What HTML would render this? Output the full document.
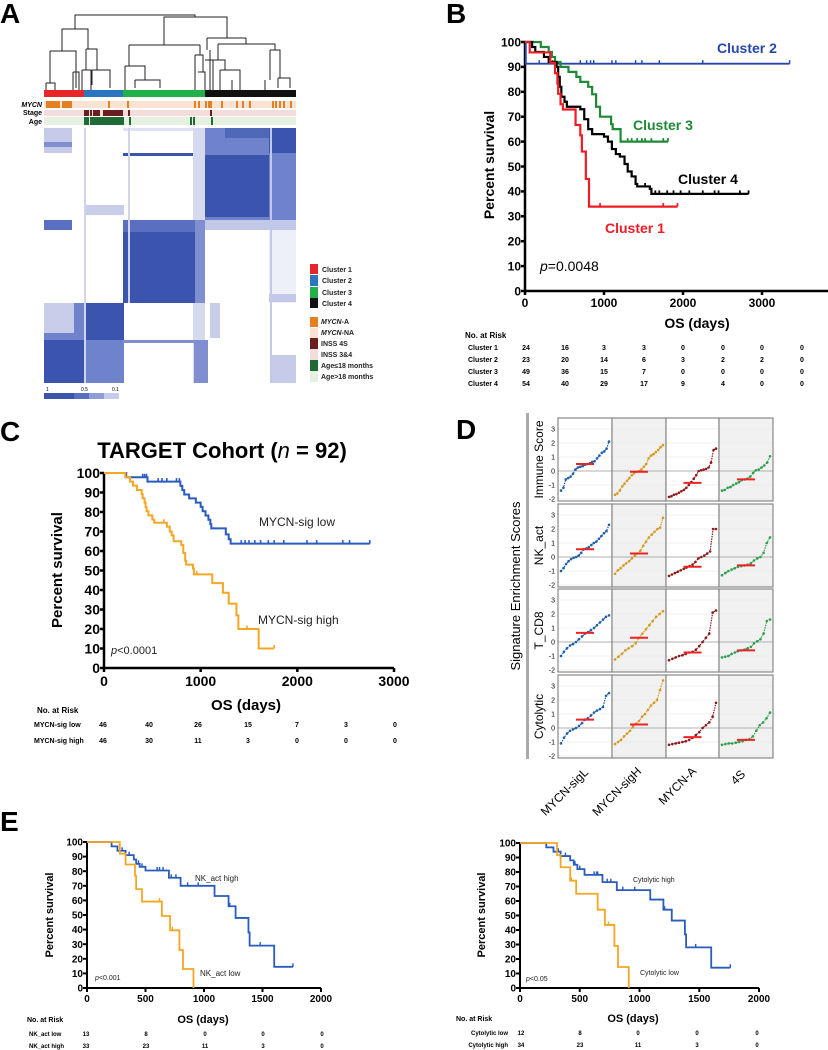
<!DOCTYPE html>
<html><head><meta charset="utf-8">
<style>
html,body{margin:0;padding:0;background:#fff;}
svg{display:block;font-family:"Liberation Sans",sans-serif;}
</style></head>
<body>
<svg id="fig" width="828" height="1050" viewBox="0 0 828 1050" xmlns="http://www.w3.org/2000/svg">
<text x="0" y="23" font-size="28" font-weight="bold">A</text>
<text x="446" y="23" font-size="28" font-weight="bold">B</text>
<text x="0" y="441" font-size="28" font-weight="bold">C</text>
<text x="456" y="439" font-size="28" font-weight="bold">D</text>
<text x="0" y="831" font-size="28" font-weight="bold">E</text>

<!-- Panel A -->
<g id="panelA">
 <g stroke="#222" stroke-width="1" fill="none">
  <path d="M75 29V15H195V17"/>
  <path d="M62 51V29H88V49"/>
  <path d="M164 45V17H227V38"/>
  <path d="M129 45H200"/><path d="M129 45V66"/><path d="M200 45V55"/>
  <path d="M207 38H246"/><path d="M207 38V50"/><path d="M246 38V44"/>
  <path d="M218 44H275V50"/><path d="M218 44V60"/>
  <path d="M50 51H76V88"/><path d="M50 51V83"/><path d="M46 83H55V90M46 83V90"/>
  <path d="M86 49H97V70"/><path d="M86 49V70"/><path d="M82 70H91V90M82 70V90"/><path d="M92 70H110V88"/><path d="M92 70V85"/>
  <path d="M73 72H79V90M73 72V90"/>
  <path d="M125 66H145V80"/><path d="M125 66V90"/><path d="M135 80H160V88"/><path d="M135 80V88"/>
  <path d="M195 55H203V72"/><path d="M195 55V90"/><path d="M198 72H205V90"/>
  <path d="M210 50V90"/><path d="M205 60H225V70"/><path d="M213 60V90"/><path d="M220 70H240V80"/><path d="M220 70V90"/><path d="M232 80V90"/><path d="M240 80V90"/>
  <path d="M270 50H280V78"/><path d="M270 50V80"/><path d="M278 78H290V88"/><path d="M278 78V88"/><path d="M265 80V90"/>
 </g>
 <rect x="44" y="90" width="40" height="7" fill="#e8262a"/>
 <rect x="84" y="90" width="39" height="7" fill="#2a74c0"/>
 <rect x="123" y="90" width="82" height="7" fill="#22b04b"/>
 <rect x="205" y="90" width="91" height="7" fill="#111"/>
 <text x="42" y="107" font-size="7" font-weight="bold" font-style="italic" text-anchor="end">MYCN</text>
 <text x="42" y="115" font-size="7" font-weight="bold" text-anchor="end">Stage</text>
 <text x="42" y="124" font-size="7" font-weight="bold" text-anchor="end">Age</text>
 <rect x="44" y="101" width="252" height="7" fill="#fbe3d3"/>
 <rect x="44" y="110" width="252" height="6" fill="#f2dcdc"/>
 <rect x="44" y="117" width="252" height="8" fill="#e6f0e0"/>
 <g id="annot"></g>
 <g id="heat">
  <rect x="44" y="128" width="252" height="255" fill="#fff"/>
  <rect x="44" y="128" width="28" height="25" fill="#c5cbe8"/>
  <rect x="44" y="142" width="28" height="5" fill="#7f8fd0"/>
  <rect x="205" y="128" width="91" height="92" fill="#6f82cc"/>
  <rect x="205" y="155" width="64" height="62" fill="#3b54ae"/>
  <rect x="269" y="128" width="27" height="25" fill="#3b54ae"/>
  <rect x="225" y="128" width="44" height="10" fill="#5068b8"/>
  <rect x="123" y="153" width="82" height="3" fill="#3b54ae"/>
  <rect x="123" y="128" width="82" height="3" fill="#dfe2f2"/>
  <rect x="193" y="128" width="12" height="255" fill="#d5daee"/>
  <rect x="205" y="220" width="91" height="10" fill="#c2c9e8"/>
  <rect x="44" y="220" width="28" height="10" fill="#5a6fbf"/>
  <rect x="84" y="205" width="40" height="10" fill="#c8cdea"/>
  <rect x="123" y="220" width="82" height="12" fill="#5a6fbf"/>
  <rect x="123" y="232" width="72" height="71" fill="#3b54ae"/>
  <rect x="195" y="220" width="10" height="83" fill="#7f8fd0"/>
  <rect x="269" y="230" width="27" height="73" fill="#eef0f8"/>
  <rect x="269" y="294" width="27" height="8" fill="#c2c9e8"/>
  <rect x="44" y="303" width="80" height="80" fill="#6f82cc"/>
  <rect x="84" y="303" width="40" height="37" fill="#3b54ae"/>
  <rect x="44" y="340" width="40" height="43" fill="#3b54ae"/>
  <rect x="44" y="303" width="30" height="30" fill="#c8cdea"/>
  <rect x="194" y="340" width="14" height="43" fill="#7f8fd0"/>
  <rect x="210" y="303" width="10" height="35" fill="#c8cdea"/>
  <rect x="272" y="355" width="24" height="28" fill="#c5cbe8"/>
  <rect x="123" y="340" width="80" height="3" fill="#7f8fd0"/>
  <rect x="128" y="128" width="2" height="175" fill="#d0d5ec"/>
  <rect x="84" y="128" width="2" height="255" fill="#d0d5ec"/>
  <rect x="270" y="128" width="2" height="255" fill="#c2c9e8"/>
 </g>
 <text x="46" y="391" font-size="5">1</text><text x="81" y="391" font-size="5">0.5</text><text x="112" y="391" font-size="5">0.1</text>
 <g>
  <rect x="44" y="393" width="30" height="6" fill="#3b54ae"/><rect x="74" y="393" width="15" height="6" fill="#5a6fbf"/><rect x="89" y="393" width="15" height="6" fill="#8f9dd6"/><rect x="104" y="393" width="15" height="6" fill="#c5cbe8"/>
 </g>
 <g font-size="7" font-weight="bold" fill="#222">
  <rect x="310" y="264" width="8" height="10" fill="#e8262a"/><text x="322" y="272">Cluster 1</text>
  <rect x="310" y="275" width="8" height="11" fill="#2a74c0"/><text x="322" y="283">Cluster 2</text>
  <rect x="310" y="287" width="8" height="11" fill="#22b04b"/><text x="322" y="295">Cluster 3</text>
  <rect x="310" y="298" width="8" height="10" fill="#111"/><text x="322" y="306">Cluster 4</text>
  <rect x="310" y="317" width="8" height="10" fill="#e67e22"/><text x="321" y="324" font-style="italic">MYCN<tspan font-style="normal">-A</tspan></text>
  <rect x="310" y="328" width="8" height="10" fill="#fbe3d3"/><text x="321" y="335" font-style="italic">MYCN<tspan font-style="normal">-NA</tspan></text>
  <rect x="310" y="338" width="8" height="11" fill="#6b1e1e"/><text x="321" y="346">INSS 4S</text>
  <rect x="310" y="349" width="8" height="11" fill="#f2dcdc"/><text x="321" y="357">INSS 3&amp;4</text>
  <rect x="310" y="360" width="8" height="11" fill="#1e6b35"/><text x="321" y="368">Age≤18 months</text>
  <rect x="310" y="371" width="8" height="11" fill="#e6f0e0"/><text x="321" y="379">Age&gt;18 months</text>
 </g>
</g>

<g id="panelB"></g>
<g id="panelC"></g>
<g id="panelD"></g>
<g id="panelE1"></g>
<g id="panelE2"></g>
</svg>

<script>
// ---- Panel A annotation data ----
const mycnAmpX=[46,48,50,52,54,56,58,62,64,66,68,70,108,127,194,198,205,208,210,221,236,242,249,272,275,279,283,290];
const stage4sX=[84,85,86,87,90,93,94,95,96,97,98,103,105,107,109,111,113,115,117,119,121,128,210];
const ageYoungX=[84,85,86,87,90,92,94,96,98,100,102,104,106,108,110,112,114,116,118,120,122,129,190,193,211];

// ---- Panel B data ----
const bTicksX=[0,1000,2000,3000];
const bTicksY=[0,10,20,30,40,50,60,70,80,90,100];
const c1T=[60,320,380,410,420,450,480,640,700,720,770,810];
const c1S=[95.8,91.7,87.5,83.3,79.2,75,72.9,66.7,62.5,56,45,33.9];
const c1Cens=[950,1750,1930];
const c2T=[10];
const c2S=[91.3];
const c2Cens=[180,350,700,780,830,870,1100,1150,1400,1480,1700,2250,3350];
const c3T=[200,300,340,380,450,550,650,700,800,850,900,950,1090,1110,1210];
const c3S=[98,96,94,92,90,88,86,84,82,79,74,70,67,65,60];
const c3Cens=[1300,1350,1420,1480,1520,1600,1750,1810];
const c4T=[90,130,240,300,400,420,440,460,500,530,700,750,800,850,1000,1050,1100,1150,1200,1260,1300,1350,1400,1420,1580,1600];
const c4S=[98,96,94,92,90,86,82,78,76,74,73,69,65,63,62,60,57,55,54,51,48,46,43,42,41,39];
const c4Cens=[1520,1650,1700,1800,1880,1970,2080,2250,2400,2450,2720,2830];
const bRiskRows=["Cluster 1","Cluster 2","Cluster 3","Cluster 4"];
const bRisk1=[24,16,3,3,0,0,0,0];
const bRisk2=[23,20,14,6,3,2,2,0];
const bRisk3=[49,36,15,7,0,0,0,0];
const bRisk4=[54,40,29,17,9,4,0,0];

// ---- Panel C data ----
const cTicksX=[0,1000,2000,3000];
const cTicksY=[0,10,20,30,40,50,60,70,80,90,100];
const lowT=[230,450,790,810,830,880,950,1000,1020,1050,1080,1100,1110,1260,1290,1310];
const lowS=[97.8,95.6,93.4,91.2,89,87,84.8,82.6,80.4,78.2,76,73.8,71.6,68.5,66,63.8];
const lowCens=[400,420,440,560,600,650,750,780,1420,1460,1500,1560,1620,1700,1760,1860,2100,2200,2470,2540,2750];
const highT=[220,270,300,340,390,400,420,430,440,460,500,520,650,680,700,720,800,820,840,850,920,930,1120,1230,1290,1370,1390,1600];
const highS=[97.8,95.6,93.5,91.3,89.1,87,84.8,82.6,80.4,78.3,76.1,74.5,72.5,70,68,65,63,59,55,53,51,48,43.5,38.6,33,27,20,10];
const highCens=[620,960,1480,1760];
const cRiskRows=["MYCN-sig low","MYCN-sig high"];
const cRiskLow=[46,40,26,15,7,3,0];
const cRiskHigh=[46,30,11,3,0,0,0];

// ---- Panel E data ----
const eTicksX=[0,500,1000,1500,2000];
const eTicksY=[0,10,20,30,40,50,60,70,80,90,100];
const nkHighT=[210,260,330,400,420,450,500,700,800,1090,1210,1270,1380,1390,1600];
const nkHighS=[97,94,91,88,85,83,80.5,75.5,70,63,56,48,38,29,14.5];
const nkHighCens=[300,360,440,470,600,620,650,720,760,860,950,1220,1480,1760];
const nkLowT=[280,330,410,420,470,640,710,790,820,910];
const nkLowS=[92,84.6,76.9,67.7,59.2,49.3,39.5,26,13,0];
const nkLowCens=[620,730];
const nkRiskRows=["NK_act low","NK_act high"];
const nkRiskLow=[13,8,0,0,0];
const nkRiskHigh=[33,23,11,3,0];
const cyHighT=[220,280,340,420,450,480,540,690,810,1090,1200,1270,1380,1390,1600];
const cyHighS=[97,94,91,88,85,82,78,73,67.5,61,54,46.5,37,28,14];
const cyHighCens=[320,380,460,500,620,640,650,730,760,860,960,1210,1470,1760];
const cyLowT=[310,340,420,470,650,710,790,820,910];
const cyLowS=[91.7,83.3,74,65,54,43.5,29,14.5,0];
const cyLowCens=[430,740];
const cyRiskRows=["Cytolytic low","Cytolytic high"];
const cyRiskLow=[12,8,0,0,0];
const cyRiskHigh=[34,23,11,3,0];

// ---- Panel D data ----
const dGroups=["MYCN-sigL","MYCN-sigH","MYCN-A","4S"];
const dSignatures=["Immune Score","NK_act","T_CD8","Cytolytic"];
const dTicks=[-2,-1,0,1,2,3];
const immL=[-1.4,-1.2,-0.6,-0.5,-0.4,-0.2,0.1,0.25,0.3,0.35,0.45,0.5,0.55,0.65,0.7,0.9,1.1,1.3,1.4,1.6,2.1];
const immH=[-1.7,-1.6,-1.4,-1.1,-0.9,-0.7,-0.5,-0.3,-0.15,-0.05,0,0.1,0.3,0.5,0.9,1.1,1.2,1.35,1.5,1.7,1.85];
const immA=[-1.85,-1.8,-1.7,-1.65,-1.55,-1.45,-1.35,-1.2,-1.0,-0.8,-0.55,-0.3,0,0.05,0.1,0.15,0.25,0.6,1.5,1.6];
const imm4S=[-1.4,-1.35,-1.2,-1.15,-1.0,-0.9,-0.8,-0.65,-0.6,-0.55,-0.4,-0.15,0.05,0.1,0.25,0.4,0.6,1.05];
const nkL=[-1,-0.8,-0.5,-0.3,-0.15,-0.05,0,0.1,0.3,0.55,0.6,0.7,0.85,1.0,1.1,1.3,1.5,1.7,1.85,2.3];
const nkH=[-1.2,-0.95,-0.8,-0.6,-0.45,-0.3,-0.1,0.1,0.25,0.45,0.8,1.1,1.4,1.6,1.8,2.0,2.1,2.8];
const nkA=[-1.35,-1.25,-1.15,-1.05,-0.95,-0.85,-0.75,-0.65,-0.55,-0.35,-0.1,0,0.1,0.25,0.4,2.0,2.0];
const nk4S=[-1.3,-1.15,-1.0,-0.9,-0.8,-0.7,-0.65,-0.6,-0.55,-0.45,-0.25,-0.1,0,0.3,1.0,1.4];
const cd8L=[-1,-0.7,-0.45,-0.25,-0.15,0,0.2,0.4,0.6,0.7,0.85,1.0,1.2,1.4,1.6,1.8,1.9];
const cd8H=[-1.25,-1.05,-0.85,-0.6,-0.45,-0.3,-0.1,0.3,0.6,0.9,1.2,1.5,1.8,2.0,2.2];
const cd8A=[-1.3,-1.2,-1.1,-1.0,-0.95,-0.85,-0.75,-0.7,-0.55,-0.3,0,0.3,0.6,2.1,2.25];
const cd84S=[-1.1,-1.05,-1.0,-0.85,-0.75,-0.65,-0.6,-0.55,-0.45,-0.35,-0.1,0.05,0.2,0.6,1.5,1.6];
const cytL=[-1.1,-0.7,-0.4,-0.2,-0.1,0,0.15,0.35,0.6,0.7,0.9,1.1,1.25,1.35,1.5,2.3,2.5];
const cytH=[-1.15,-1.0,-0.85,-0.6,-0.4,-0.2,0.1,0.3,0.5,0.8,1.0,1.3,1.6,1.8,2.0,2.7,3.4];
const cytA=[-1.2,-1.15,-1.1,-1.05,-1.0,-0.95,-0.85,-0.7,-0.5,-0.3,0,0.2,0.4,0.8,1.8];
const cyt4S=[-1.2,-1.15,-1.1,-1.1,-1.05,-1.0,-0.95,-0.85,-0.8,-0.6,-0.2,0.2,0.4,0.7,1.1];
const dMedImm=[0.5,-0.05,-0.85,-0.6];
const dMedNk=[0.55,0.25,-0.7,-0.6];
const dMedCd8=[0.65,0.3,-0.75,-0.6];
const dMedCyt=[0.6,0.25,-0.65,-0.85];

const NS="http://www.w3.org/2000/svg";
function mk(parent,tag,attrs,text){const e=document.createElementNS(NS,tag);for(const k in attrs)e.setAttribute(k,attrs[k]);if(text!==undefined)e.textContent=text;parent.appendChild(e);return e;}

// annotations
const ann=document.getElementById('annot');
mycnAmpX.forEach(x=>{const r=mk(ann,'rect',{x:x,y:101,width:2,height:7,fill:'#e67e22'});

});
stage4sX.forEach(x=>{const r=mk(ann,'rect',{x:x,y:110,width:2,height:6,fill:'#6b1e1e'});

});
ageYoungX.forEach(x=>{const r=mk(ann,'rect',{x:x,y:117,width:2,height:8,fill:'#1e6b35'});

});

function makeAxes(g,o){
  const X=v=>o.x0+(v/o.xmax)*(o.x1-o.x0);
  const Y=v=>o.y0-(v/100)*(o.y0-o.y100);
  const ax=mk(g,'g',{});
  
  
  mk(ax,'line',{x1:o.x0,y1:o.y100,x2:o.x0,y2:o.y0,stroke:'#000','stroke-width':o.lw});
  mk(ax,'line',{x1:o.x0,y1:o.y0,x2:o.axEnd||X(o.xmax),y2:o.y0,stroke:'#000','stroke-width':o.lw});
  o.yt.forEach(v=>{mk(ax,'line',{x1:o.x0-4,y1:Y(v),x2:o.x0,y2:Y(v),stroke:'#000','stroke-width':o.lw});
    const t=mk(ax,'text',{x:o.x0-4,y:Y(v)+o.fs*0.36,'font-size':o.fs,'font-weight':'bold','text-anchor':'end'},v);
    
    });
  o.xt.forEach(v=>{mk(ax,'line',{x1:X(v),y1:o.y0,x2:X(v),y2:o.y0+4,stroke:'#000','stroke-width':o.lw});
    const t=mk(ax,'text',{x:X(v),y:o.y0+4+o.fs,'font-size':o.fs,'font-weight':'bold','text-anchor':'middle'},v);
    
    });
  const yl=mk(g,'text',{x:o.ylx,y:o.yly,'font-size':o.lfs,'font-weight':'bold','text-anchor':'middle',transform:`rotate(-90 ${o.ylx} ${o.yly})`},'Percent survival');
  
  
  const xl=mk(g,'text',{x:o.xlx,y:o.xly,'font-size':o.lfs,'font-weight':'bold','text-anchor':'middle'},'OS (days)');
  
  
  return {X,Y};
}
function kmCurve(g,s,T,S,end,cens,color,w,name){
  let d=`M${s.X(0)} ${s.Y(100)}`;
  for(let i=0;i<T.length;i++){d+=`H${s.X(T[i])}V${s.Y(S[i])}`;}
  const last=T.length?T[T.length-1]:0;
  if(end>last)d+=`H${s.X(end)}`;
  const p=mk(g,'path',{d:d,fill:'none',stroke:color,'stroke-width':w});
  
  
  cens.forEach(t=>{let sv=100;for(let i=0;i<T.length;i++)if(T[i]<=t)sv=S[i];
    const c=mk(g,'line',{x1:s.X(t),y1:s.Y(sv),x2:s.X(t),y2:s.Y(sv)-3.5,stroke:color,'stroke-width':w*0.8});
    
    });
}
function riskTable(g,title,tx,ty,rows,vals,lx,cols,rowY,fs,anchor){
  const t=mk(g,'text',{x:tx,y:ty,'font-size':fs+1,'font-weight':'bold'},title);
  
  
  rows.forEach((r,i)=>{
    const l=mk(g,'text',{x:lx,y:rowY[i],'font-size':fs,'font-weight':'bold','text-anchor':anchor||'start'},r);
    
    
    vals[i].forEach((v,j)=>{const c=mk(g,'text',{x:cols[j],y:rowY[i],'font-size':fs,'font-weight':'bold','text-anchor':'middle'},v);
      
      });
  });
}
function txt(g,x,y,fs,fill,s,name,extra){const t=mk(g,'text',Object.assign({x:x,y:y,'font-size':fs,fill:fill,'font-weight':'bold'},extra||{}));t.innerHTML=s;
  
  return t;}

// Panel B
(function(){
  const g=document.getElementById('panelB');
  const s=makeAxes(g,{x0:525,x1:762,xmax:3000,axEnd:828,y0:291,y100:42,xt:bTicksX,yt:bTicksY,fs:12,lfs:14,lw:2.5,ylx:494,yly:165,xlx:697,xly:328});
  kmCurve(g,s,c2T,c2S,3350,c2Cens,'#2845a8',1.8,'cluster-2-curve');
  kmCurve(g,s,c3T,c3S,1810,c3Cens,'#1e8a35',2.2,'cluster-3-curve');
  kmCurve(g,s,c4T,c4S,2830,c4Cens,'#000',2.2,'cluster-4-curve');
  kmCurve(g,s,c1T,c1S,1930,c1Cens,'#ee1c24',2.2,'cluster-1-curve');
  txt(g,717,53,14,'#2845a8','Cluster 2','cluster-2-label');
  txt(g,633,130,14,'#1e8a35','Cluster 3','cluster-3-label');
  txt(g,678,184,14,'#000','Cluster 4','cluster-4-label');
  txt(g,605,233,14,'#ee1c24','Cluster 1','cluster-1-label');
  txt(g,540,271,14,'#000','<tspan font-style="italic">p</tspan>=0.0048','p-value',{'font-weight':'normal'});
  riskTable(g,'No. at Risk',465,338,bRiskRows,[bRisk1,bRisk2,bRisk3,bRisk4],468,[526,565,604,644,683,723,762,802],[350,362,374,386],7);
})();

// Panel C
(function(){
  const g=document.getElementById('panelC');
  const t=mk(g,'text',{x:222,y:458,'font-size':22,'font-weight':'bold','text-anchor':'middle'});
  t.innerHTML='TARGET Cohort (<tspan font-style="italic" font-weight="normal">n</tspan> = 92)';
  
  
  const s=makeAxes(g,{x0:104,x1:394,xmax:3000,y0:668,y100:473,xt:cTicksX,yt:cTicksY,fs:14,lfs:15,lw:2.5,ylx:62,yly:570,xlx:246,xly:710});
  kmCurve(g,s,lowT,lowS,2750,lowCens,'#2a5bbf',2,'mycn-sig-low-curve');
  kmCurve(g,s,highT,highS,1760,highCens,'#f5a623',2,'mycn-sig-high-curve');
  txt(g,259,526,12,'#222','MYCN-sig low','mycn-sig-low-label',{'font-weight':'normal'});
  txt(g,258,624,12,'#222','MYCN-sig high','mycn-sig-high-label',{'font-weight':'normal'});
  txt(g,111,654,11,'#222','<tspan font-style="italic">p</tspan>&lt;0.0001','p-value',{'font-weight':'normal'});
  riskTable(g,'No. at Risk',37,713,cRiskRows,[cRiskLow,cRiskHigh],34,[103,149,198,248,297,346,395],[727,743],7);
})();

// Panel E left
(function(){
  const g=document.getElementById('panelE1');
  const s=makeAxes(g,{x0:87,x1:321,xmax:2000,y0:988,y100:842,xt:eTicksX,yt:eTicksY,fs:10,lfs:11,lw:2,ylx:53,yly:915,xlx:203,xly:1023});
  kmCurve(g,s,nkHighT,nkHighS,1760,nkHighCens,'#2a5bbf',1.8,'nk-act-high-curve');
  kmCurve(g,s,nkLowT,nkLowS,910,nkLowCens,'#f5a623',1.8,'nk-act-low-curve');
  txt(g,195,881,8,'#222','NK_act high','nk-act-high-label',{'font-weight':'normal'});
  txt(g,200,976,8,'#222','NK_act low','nk-act-low-label',{'font-weight':'normal'});
  txt(g,95,980,7,'#222','<tspan font-style="italic">p</tspan>&lt;0.001','p-value',{'font-weight':'normal'});
  riskTable(g,'No. at Risk',27,1022,nkRiskRows,[nkRiskLow,nkRiskHigh],29,[86,146,205,263,322],[1036,1048],6);
})();

// Panel E right
(function(){
  const g=document.getElementById('panelE2');
  const s=makeAxes(g,{x0:520,x1:759,xmax:2000,y0:988,y100:843,xt:eTicksX,yt:eTicksY,fs:10,lfs:11,lw:2,ylx:485,yly:915,xlx:633,xly:1022});
  kmCurve(g,s,cyHighT,cyHighS,1760,cyHighCens,'#2a5bbf',1.8,'cytolytic-high-curve');
  kmCurve(g,s,cyLowT,cyLowS,910,cyLowCens,'#f5a623',1.8,'cytolytic-low-curve');
  txt(g,633,882,7,'#222','Cytolytic high','cytolytic-high-label',{'font-weight':'normal'});
  txt(g,640,975,7,'#222','Cytolytic low','cytolytic-low-label',{'font-weight':'normal'});
  txt(g,526,981,7,'#222','<tspan font-style="italic">p</tspan>&lt;0.05','p-value',{'font-weight':'normal'});
  riskTable(g,'No. at Risk',456,1021,cyRiskRows,[cyRiskLow,cyRiskHigh],508,[521,580,638,697,757],[1035,1047],6,'end');
})();

// Panel D
(function(){
  const g=document.getElementById('panelD');
  const colX=[558,612,666,719,773];
  const rowTop=[418,504,589,675];
  const rowH=83, zeroOff=53, unit=14;
  const data=[[immL,immH,immA,imm4S],[nkL,nkH,nkA,nk4S],[cd8L,cd8H,cd8A,cd84S],[cytL,cytH,cytA,cyt4S]];
  const meds=[dMedImm,dMedNk,dMedCd8,dMedCyt];
  const colors=['#1f5fa8','#d49a22','#8b1a1a','#2e9e4f'];
  const bgs=['#ffffff','#f1f1f1','#ffffff','#f1f1f1'];
  const bar=mk(g,'rect',{x:526,y:413,width:3,height:346,fill:'#aaa'});
  
  
  const yt=mk(g,'text',{x:520,y:586,'font-size':13,'text-anchor':'middle',transform:'rotate(-90 520 586)'},'Signature Enrichment Scores');
  
  
  dSignatures.forEach((sig,r)=>{
    const top=rowTop[r], Y=v=>top+zeroOff-v*unit;
    const lab=mk(g,'text',{x:543,y:top+rowH/2,'font-size':12,'text-anchor':'middle',transform:`rotate(-90 543 ${top+rowH/2})`},sig);
    
    
    dTicks.forEach(v=>{const t=mk(g,'text',{x:555,y:Y(v)+2.5,'font-size':7,'text-anchor':'end'},v);
      
      });
    dGroups.forEach((gr,c)=>{
      const x0=colX[c],x1=colX[c+1];
      const cell=mk(g,'rect',{x:x0,y:top,width:x1-x0,height:rowH,fill:bgs[c]});
      
      
      dTicks.forEach(v=>{if(v!==0)mk(g,'line',{x1:x0,x2:x1,y1:Y(v),y2:Y(v),stroke:'#e3e3e3','stroke-width':0.6});});
      mk(g,'line',{x1:x0,x2:x1,y1:Y(0),y2:Y(0),stroke:'#999','stroke-width':0.8});
      const vals=data[r][c], n=vals.length;
      const X=i=>x0+3+i*(x1-x0-6)/(n-1);
      let d='';vals.forEach((v,i)=>{d+=(i?'L':'M')+X(i)+' '+Y(v);});
      mk(g,'path',{d:d,fill:'none',stroke:colors[c],'stroke-width':1.2,'stroke-dasharray':'1.5 1'});
      vals.forEach((v,i)=>{const p=mk(g,'circle',{cx:X(i),cy:Y(v),r:1.3,fill:colors[c]});
        
        });
      const xm=(x0+x1)/2;
      const m=mk(g,'line',{x1:xm-9,x2:xm+9,y1:Y(meds[r][c]),y2:Y(meds[r][c]),stroke:'#ee2222','stroke-width':2});
      
      
      const b=mk(g,'rect',{x:x0,y:top,width:x1-x0,height:rowH,fill:'none',stroke:'#888','stroke-width':1.2});
      
      
    });
  });
  const ends=[[589,773],[642,772],[697,772],[746,775]];
  dGroups.forEach((gr,c)=>{const [x,y]=ends[c];
    const t=mk(g,'text',{x:x,y:y,'font-size':12,'text-anchor':'end',transform:`rotate(-45 ${x} ${y})`},gr);
    
    });
})();
</script>
</body></html>
